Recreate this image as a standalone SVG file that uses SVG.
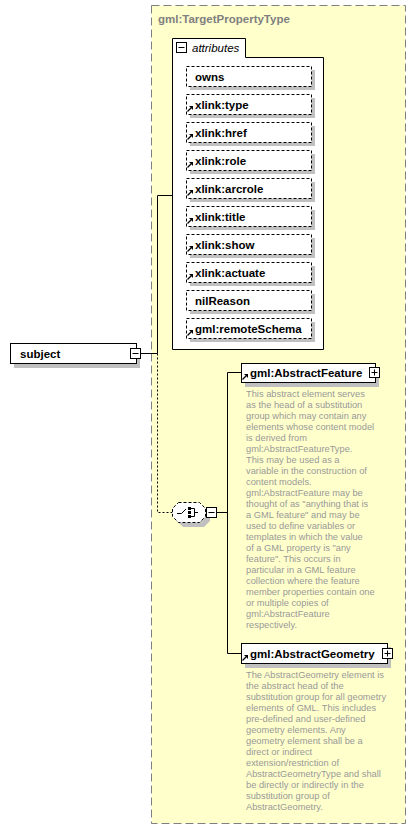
<svg xmlns="http://www.w3.org/2000/svg" width="416" height="830" viewBox="0 0 416 830">
<defs>
<style>
.lbl{font-family:"Liberation Sans",Arial,sans-serif;font-size:11.5px;font-weight:bold;fill:#000}
.title{font-family:"Liberation Sans",Arial,sans-serif;font-size:11.5px;font-weight:bold;fill:#808080}
.ital{font-family:"Liberation Sans",Arial,sans-serif;font-size:11.5px;font-style:italic;fill:#000}
.desc{font-family:"Liberation Sans",Arial,sans-serif;font-size:9.3px;fill:#999999}
.box{fill:#fff;stroke:#000;stroke-width:1}
.dbox{fill:#fff;stroke:#000;stroke-width:1;stroke-dasharray:3,2}
.shadow{fill:#c0c0c0}
.ln{fill:none;stroke:#000;stroke-width:1}
.dln{fill:none;stroke:#000;stroke-width:1;stroke-dasharray:2,2}
.ico{fill:#000;stroke:none}
</style>
<g id="arrowIcon">
<path d="M0.5,5.5 L4,2" stroke="#000" stroke-width="1.2" fill="none"/>
<path d="M2,0 L6,0 L6,4 Z" fill="#000"/>
</g>
<g id="attrShadow"><rect x="4" y="4" width="125" height="20" class="shadow"/></g>
</defs>

<g id="container">
<rect x="151.5" y="5.5" width="254" height="818" fill="#ffffcc" stroke="#808080" stroke-width="1" stroke-dasharray="8,4"/>
<text x="158" y="23" class="title">gml:TargetPropertyType</text>
</g>

<g id="connectors">
<path class="ln" d="M140.5,353.5 H157.5 V195.5 H172.5"/>
<path class="dln" d="M157.5,353.5 V512.5 H172.5"/>
<path class="ln" d="M216.5,512.5 H227.5"/>
<path class="ln" d="M227.5,372.5 V653.5"/>
<path class="ln" d="M227.5,372.5 H241.5"/>
<path class="ln" d="M227.5,653.5 H241.5"/>
</g>

<g id="subject">
<rect x="14" y="348" width="126" height="20" class="shadow"/>
<rect x="10.5" y="343.5" width="126" height="20" class="box"/>
<text x="20" y="357.5" class="lbl">subject</text>
<rect x="130.5" y="348.5" width="10" height="10" class="box"/>
<path class="ln" d="M132.5,353.5 H138.5"/>
</g>

<g id="attributes">
<path d="M172.5,349.5 V38.5 H245.5 V57.5 H323.5 V349.5 Z" class="box"/>
<rect x="176.5" y="42.5" width="10" height="10" class="box"/>
<path class="ln" d="M178.5,47.5 H184.5"/>
<text x="192" y="52" class="ital">attributes</text>
</g>

<g id="attr-owns">
<use href="#attrShadow" x="186" y="66"/>
<rect x="186.5" y="66.5" width="125" height="20" class="dbox"/>
<text x="195" y="80.5" class="lbl">owns</text>
</g>
<g id="attr-xlink-type">
<use href="#attrShadow" x="186" y="94"/>
<rect x="186.5" y="94.5" width="125" height="20" class="dbox"/>
<use href="#arrowIcon" x="187" y="106"/>
<text x="195" y="108.5" class="lbl">xlink:type</text>
</g>
<g id="attr-xlink-href">
<use href="#attrShadow" x="186" y="122"/>
<rect x="186.5" y="122.5" width="125" height="20" class="dbox"/>
<use href="#arrowIcon" x="187" y="134"/>
<text x="195" y="136.5" class="lbl">xlink:href</text>
</g>
<g id="attr-xlink-role">
<use href="#attrShadow" x="186" y="150"/>
<rect x="186.5" y="150.5" width="125" height="20" class="dbox"/>
<use href="#arrowIcon" x="187" y="162"/>
<text x="195" y="164.5" class="lbl">xlink:role</text>
</g>
<g id="attr-xlink-arcrole">
<use href="#attrShadow" x="186" y="178"/>
<rect x="186.5" y="178.5" width="125" height="20" class="dbox"/>
<use href="#arrowIcon" x="187" y="190"/>
<text x="195" y="192.5" class="lbl">xlink:arcrole</text>
</g>
<g id="attr-xlink-title">
<use href="#attrShadow" x="186" y="206"/>
<rect x="186.5" y="206.5" width="125" height="20" class="dbox"/>
<use href="#arrowIcon" x="187" y="218"/>
<text x="195" y="220.5" class="lbl">xlink:title</text>
</g>
<g id="attr-xlink-show">
<use href="#attrShadow" x="186" y="234"/>
<rect x="186.5" y="234.5" width="125" height="20" class="dbox"/>
<use href="#arrowIcon" x="187" y="246"/>
<text x="195" y="248.5" class="lbl">xlink:show</text>
</g>
<g id="attr-xlink-actuate">
<use href="#attrShadow" x="186" y="262"/>
<rect x="186.5" y="262.5" width="125" height="20" class="dbox"/>
<use href="#arrowIcon" x="187" y="274"/>
<text x="195" y="276.5" class="lbl">xlink:actuate</text>
</g>
<g id="attr-nilReason">
<use href="#attrShadow" x="186" y="290"/>
<rect x="186.5" y="290.5" width="125" height="20" class="dbox"/>
<text x="195" y="304.5" class="lbl">nilReason</text>
</g>
<g id="attr-remoteSchema">
<use href="#attrShadow" x="186" y="318"/>
<rect x="186.5" y="318.5" width="125" height="20" class="dbox"/>
<use href="#arrowIcon" x="187" y="330"/>
<text x="195" y="332.5" class="lbl">gml:remoteSchema</text>
</g>

<g id="choice">
<path d="M183,507 H204 L210,513 V521 L204,527 H183 L177,521 V513 Z" class="shadow"/>
<path d="M178.5,502.5 H199.5 L205.5,508.5 V516.5 L199.5,522.5 H178.5 L172.5,516.5 V508.5 Z" class="dbox"/>
<path class="ln" d="M177,513.5 H181.5 L186,509"/>
<rect x="188" y="507" width="3" height="3" class="ico"/>
<rect x="188" y="511" width="3" height="3" class="ico"/>
<rect x="188" y="515" width="3" height="3" class="ico"/>
<path class="ln" d="M191,508.5 H194.5 V516.5 H191 M194.5,512.5 H198"/>
<rect x="206.5" y="507.5" width="10" height="10" class="box"/>
<path class="ln" d="M208.5,512.5 H214.5"/>
</g>

<g id="AbstractFeature">
<rect x="245" y="367" width="134" height="20" class="shadow"/>
<rect x="241.5" y="363.5" width="134" height="19" class="box"/>
<use href="#arrowIcon" x="242" y="374"/>
<text x="250" y="377" class="lbl">gml:AbstractFeature</text>
<rect x="369.5" y="367.5" width="10" height="10" class="box"/>
<path class="ln" d="M371.5,372.5 H377.5 M374.5,369.5 V375.5"/>
<text class="desc">
<tspan x="246" y="397">This abstract element serves</tspan>
<tspan x="246" y="408">as the head of a substitution</tspan>
<tspan x="246" y="419">group which may contain any</tspan>
<tspan x="246" y="430">elements whose content model</tspan>
<tspan x="246" y="441">is derived from</tspan>
<tspan x="246" y="452">gml:AbstractFeatureType.</tspan>
<tspan x="246" y="463">This may be used as a</tspan>
<tspan x="246" y="474">variable in the construction of</tspan>
<tspan x="246" y="485">content models.</tspan>
<tspan x="246" y="496">gml:AbstractFeature may be</tspan>
<tspan x="246" y="507">thought of as "anything that is</tspan>
<tspan x="246" y="518">a GML feature" and may be</tspan>
<tspan x="246" y="529">used to define variables or</tspan>
<tspan x="246" y="540">templates in which the value</tspan>
<tspan x="246" y="551">of a GML property is "any</tspan>
<tspan x="246" y="562">feature". This occurs in</tspan>
<tspan x="246" y="573">particular in a GML feature</tspan>
<tspan x="246" y="584">collection where the feature</tspan>
<tspan x="246" y="595">member properties contain one</tspan>
<tspan x="246" y="606">or multiple copies of</tspan>
<tspan x="246" y="617">gml:AbstractFeature</tspan>
<tspan x="246" y="628">respectively.</tspan>
</text>
</g>

<g id="AbstractGeometry">
<rect x="245" y="647" width="146" height="21" class="shadow"/>
<rect x="241.5" y="643.5" width="146" height="20" class="box"/>
<use href="#arrowIcon" x="242" y="655"/>
<text x="250" y="657.5" class="lbl">gml:AbstractGeometry</text>
<rect x="382.5" y="648.5" width="10" height="10" class="box"/>
<path class="ln" d="M384.5,653.5 H390.5 M387.5,650.5 V656.5"/>
<text class="desc">
<tspan x="246" y="678">The AbstractGeometry element is</tspan>
<tspan x="246" y="689">the abstract head of the</tspan>
<tspan x="246" y="700">substitution group for all geometry</tspan>
<tspan x="246" y="711">elements of GML. This includes</tspan>
<tspan x="246" y="722">pre-defined and user-defined</tspan>
<tspan x="246" y="733">geometry elements. Any</tspan>
<tspan x="246" y="744">geometry element shall be a</tspan>
<tspan x="246" y="755">direct or indirect</tspan>
<tspan x="246" y="766">extension/restriction of</tspan>
<tspan x="246" y="777">AbstractGeometryType and shall</tspan>
<tspan x="246" y="788">be directly or indirectly in the</tspan>
<tspan x="246" y="799">substitution group of</tspan>
<tspan x="246" y="810">AbstractGeometry.</tspan>
</text>
</g>
</svg>
